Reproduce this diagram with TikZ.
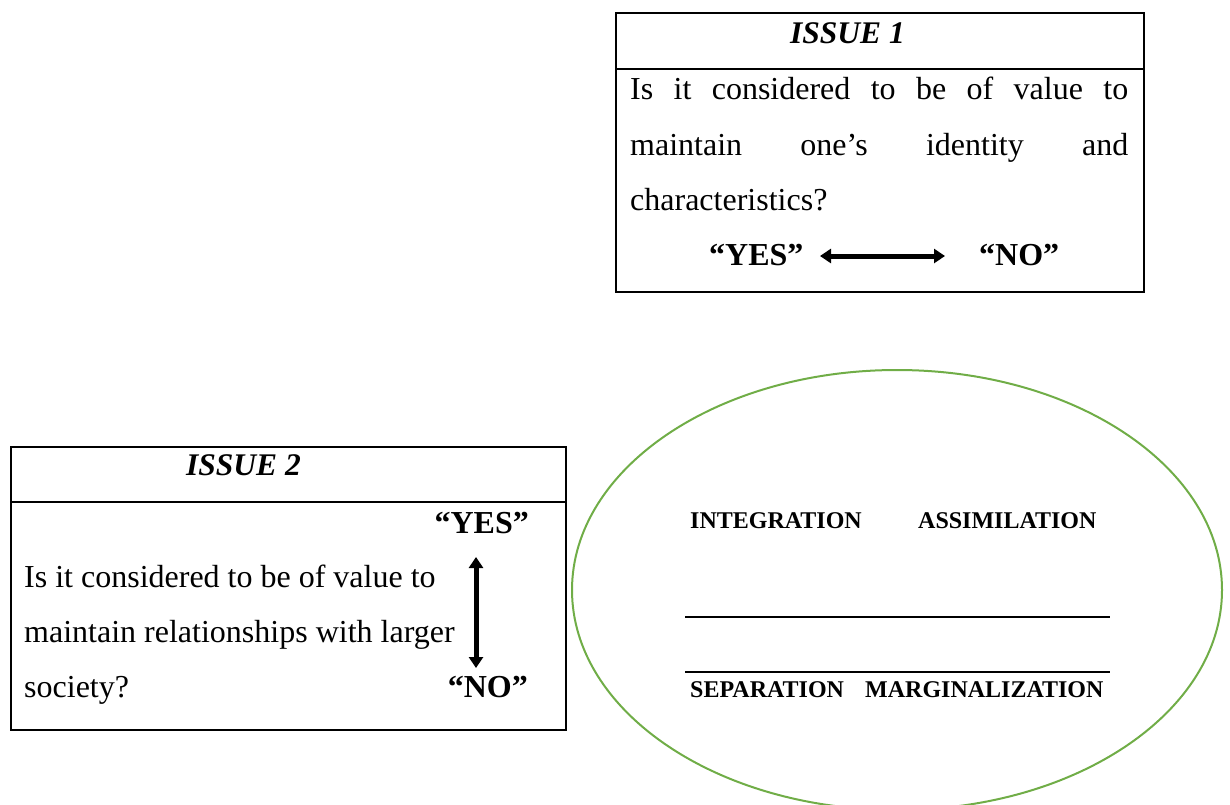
\documentclass[tikz,border=0pt]{standalone}
\usepackage{fontspec}
\setmainfont{Liberation Serif}
\usetikzlibrary{arrows.meta,shapes.geometric}
\definecolor{ellgreen}{RGB}{112,173,71}
\tikzset{
  box/.style={draw=black, line width=1.6pt, anchor=north west, inner sep=0pt},
  body/.style={anchor=base west, inner sep=0pt, font=\fontsize{32}{38}\selectfont},
  bodyb/.style={anchor=base west, inner sep=0pt, font=\fontsize{32}{38}\selectfont\bfseries},
  ttl/.style={anchor=base west, inner sep=0pt, font=\fontsize{31.5}{37}\selectfont\bfseries\itshape},
  lbl/.style={anchor=base west, inner sep=0pt, font=\fontsize{24}{28}\selectfont\bfseries},
  dbl/.style={line width=5pt, {Triangle[length=11pt,width=14pt]}-{Triangle[length=11pt,width=14pt]}},
  sep/.style={line width=1.6pt}
}
\begin{document}
\begin{tikzpicture}[x=1pt,y=-1pt]
\useasboundingbox (0,0) rectangle (1230,804);
% ---- Issue 1 ----
\node[box, minimum width=528pt, minimum height=279pt] (b1) at (615,12) {};
\coordinate (b1l) at (615,69);
\coordinate (b1r) at (1143,69);
\draw[sep] (b1l) -- (b1r);
\node[ttl] (t1) at (790,43) {ISSUE 1};
\node[body] (l11) at (630,99) {\makebox[498pt][s]{Is it considered to be of value to}};
\node[body] (l12) at (630,155) {\makebox[498pt][s]{maintain one’s identity and}};
\node[body] (l13) at (630,210) {characteristics?};
\node[bodyb] (y1) at (709,265) {“YES”};
\node[bodyb] (n1) at (979,265) {“NO”};
\coordinate (a1s) at (820,256);
\coordinate (a1e) at (945,256);
\draw[dbl] (a1s) -- (a1e);
% ---- Issue 2 ----
\node[box, minimum width=555pt, minimum height=283pt] (b2) at (10,446) {};
\coordinate (b2l) at (10,502);
\coordinate (b2r) at (565,502);
\draw[sep] (b2l) -- (b2r);
\node[ttl] (t2) at (186,475) {ISSUE 2};
\node[bodyb, anchor=base east] (y2) at (529,533) {“YES”};
\node[body] (l21) at (24,587) {Is it considered to be of value to};
\node[body] (l22) at (24,642) {maintain relationships with larger};
\node[body] (l23) at (24,697) {society?};
\node[bodyb, anchor=base east] (n2) at (528,697) {“NO”};
\coordinate (a2s) at (476,557);
\coordinate (a2e) at (476,668);
\draw[dbl] (a2s) -- (a2e);
% ---- Ellipse ----
\node[draw=ellgreen, line width=2pt, ellipse, minimum width=650pt, minimum height=440pt, inner sep=0pt] (ell) at (897,590) {};
\node[lbl] (int) at (690,528) {INTEGRATION};
\node[lbl] (ass) at (918,528) {ASSIMILATION};
\node[lbl] (sepn) at (690,697) {SEPARATION};
\node[lbl] (mar) at (865,697) {MARGINALIZATION};
\coordinate (h1l) at (685,617);
\coordinate (h1r) at (1110,617);
\coordinate (h2l) at (685,672);
\coordinate (h2r) at (1110,672);
\draw[sep] (h1l) -- (h1r);
\draw[sep] (h2l) -- (h2r);
\end{tikzpicture}
\end{document}
